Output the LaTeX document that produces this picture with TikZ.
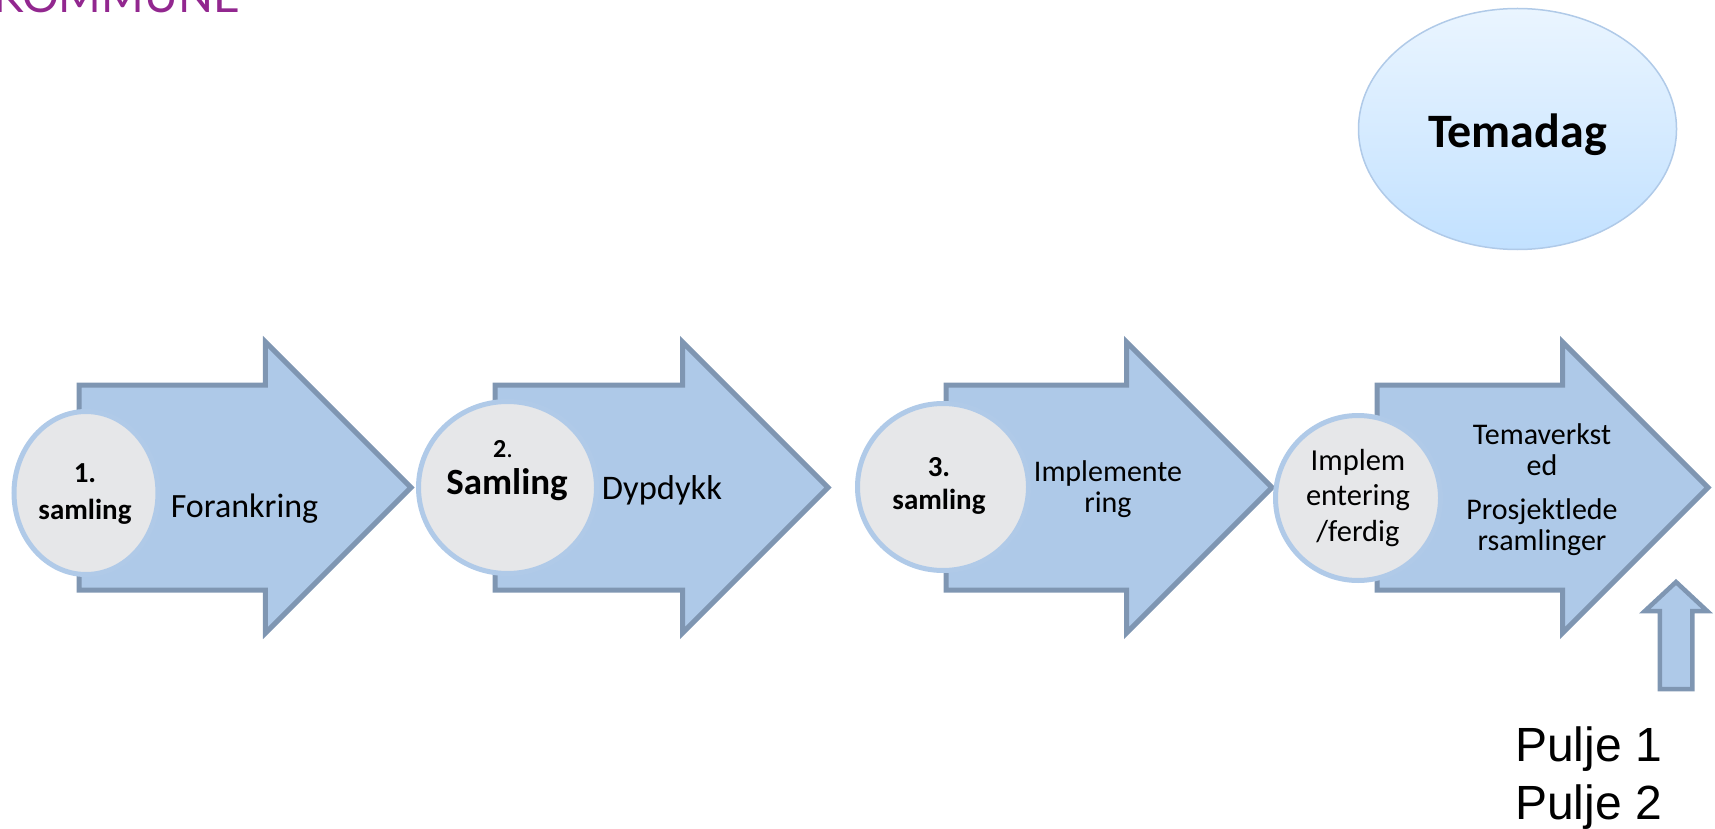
\documentclass[tikz,border=0pt]{standalone}
\usepackage{fontspec}
\setmainfont{Carlito}
\newfontfamily\puljefont{Liberation Sans}
\newfontfamily\logofont{Lato}
\usetikzlibrary{shapes.arrows, shapes.geometric}

\definecolor{arrowfill}{HTML}{AEC9E8}
\definecolor{arrowline}{HTML}{7F96B2}
\definecolor{circlefill}{HTML}{E6E7E9}
\definecolor{circleline}{HTML}{B0CAE8}
\definecolor{logopurple}{HTML}{92278F}
\definecolor{themetop}{HTML}{EAF5FF}
\definecolor{themebottom}{HTML}{C2E1FF}

\begin{document}
\begin{tikzpicture}[%
		x=1pt,
		y=-1pt,
		stagearrow/.style={
			single arrow,
			single arrow head extend=43pt,
			single arrow tip angle=90,
			minimum width=286pt,
			minimum height=332pt,
			inner xsep=0pt,
			inner ysep=100pt,
			outer sep=0pt,
			anchor=tail,
			fill=arrowfill,
			draw=arrowline,
			line width=5pt,
			miter limit=10
		},
		pointer/.style={
			single arrow,
			single arrow head extend=15pt,
			single arrow tip angle=94,
			minimum width=60pt,
			minimum height=107pt,
			inner xsep=14pt,
			inner ysep=0pt,
			outer sep=0pt,
			shape border rotate=90,
			anchor=tail,
			fill=arrowfill,
			draw=arrowline,
			line width=4.5pt
		},
		stage/.style={
			ellipse,
			inner sep=0pt,
			outer sep=0pt,
			fill=circlefill,
			draw=circleline,
			line width=5pt
		},
		theme/.style={
			ellipse,
			inner sep=0pt,
			minimum width=318pt,
			minimum height=241pt,
			top color=themetop,
			bottom color=themebottom,
			draw=circleline,
			line width=1.5pt
		},
		stagelabel/.style={
			align=center,
			inner sep=0pt,
			font=\fontsize{29}{37}\selectfont\bfseries
		},
		bodylabel/.style={
			align=center,
			inner sep=0pt,
			font=\fontsize{30}{31}\selectfont
		},
		puljelabel/.style={
			align=left,
			inner sep=0pt,
			font=\fontsize{48}{58}\selectfont\puljefont
		}]

		\useasboundingbox (0,0) rectangle (1715,829);

		% LOGO

		\node (logo) [anchor=base east, inner sep=0pt, text=logopurple, font=\fontsize{46}{46}\selectfont\logofont] at (240,13) {KOMMUNE};

		% ARROWS

		\node (arrow-I) [stagearrow] at (79,487.5) {};
		\node (arrow-II) [stagearrow, minimum height=333pt] at (495,487.5) {};
		\node (arrow-III) [stagearrow, minimum height=326pt] at (946,487.5) {};
		\node (arrow-IV) [stagearrow, minimum height=331pt] at (1377,487.5) {};
		\node (pointer-I) [pointer] at (1676,689) {};

		% CIRCLES

		\node (stage-I) [stage, minimum width=144pt, minimum height=163pt] at (86,493) {};
		\node (stage-II) [stage, minimum width=178pt, minimum height=172pt] at (507.5,487.5) {};
		\node (stage-III) [stage, minimum width=171pt, minimum height=167pt] at (943,487) {};
		\node (stage-IV) [stage, minimum width=165pt, minimum height=165pt] at (1358,498) {};

		% TEXTS

		\node (text-I) [stagelabel] at (85,494.5) {1.\\samling};
		\node (text-IIa) [stagelabel, font=\fontsize{26}{30}\selectfont] at (503,449) {\textbf{2}.};
		\node (text-IIb) [stagelabel, font=\fontsize{37}{42}\selectfont\bfseries] at (507,485) {Samling};
		\node (text-III) [stagelabel, font=\fontsize{29}{33}\selectfont\bfseries] at (939,486) {3.\\samling};
		\node (text-IV) [bodylabel, font=\fontsize{30.5}{35.5}\selectfont] at (1358,498) {Implem\\entering\\/ferdig};

		\node (body-I) [bodylabel, font=\fontsize{34}{40}\selectfont] at (244.5,509) {Forankring};
		\node (body-II) [bodylabel, font=\fontsize{34.5}{40}\selectfont] at (662,490) {Dypdykk};
		\node (body-III) [bodylabel] at (1108,489) {Implemente\\ring};
		\node (body-IVa) [bodylabel, font=\fontsize{30}{31}\selectfont] at (1542,449.5) {Temaverkst\\ed};
		\node (body-IVb) [bodylabel, font=\fontsize{30}{31}\selectfont] at (1542,527) {Prosjektlede\\rsamlinger};

		\node (theme-I) [theme] at (1517.5,129) {};
		\node (text-theme) [inner sep=0pt, font=\fontsize{48}{56}\selectfont\bfseries] at (1517.5,135) {Temadag};

		\node (pulje) [puljelabel, anchor=north west] at (1515,727) {Pulje 1\\Pulje 2};
\end{tikzpicture}
\end{document}
